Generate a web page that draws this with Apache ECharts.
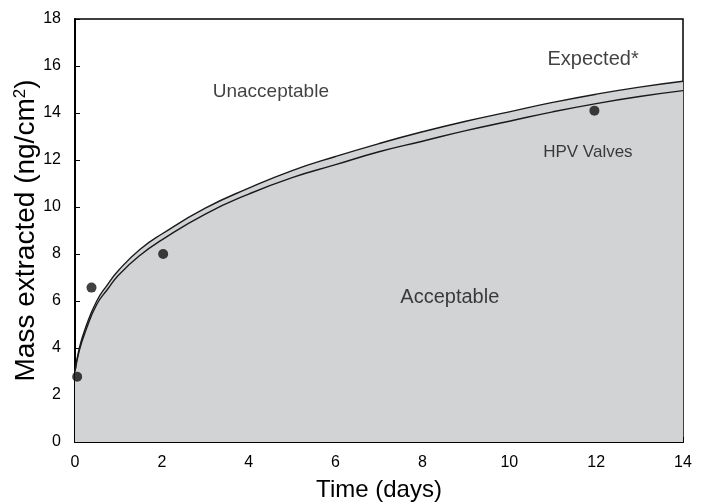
<!DOCTYPE html>
<html>
<head>
<meta charset="utf-8">
<script src="https://cdn.jsdelivr.net/npm/echarts@6/dist/echarts.min.js"></script>
<style>html,body{margin:0;padding:0;background:#fff}#c{width:703px;height:503px}</style>
</head>
<body>
<div id="c"></div>
<script>
// Time (days) at which curves were read
var curveT = [0, 0.1, 0.25, 0.5, 0.75, 1, 1.5, 2, 3, 4, 5, 6, 7, 8, 9, 10, 11, 12, 13, 14];
// Upper boundary curve (Expected*)
var upperM = [3.0, 4.0, 4.9, 6.0, 6.7, 7.3, 8.2, 8.85, 9.95, 10.8, 11.55, 12.15, 12.7, 13.2, 13.65, 14.05, 14.45, 14.8, 15.1, 15.35];
// Lower boundary curve
var lowerM = [3.0, 3.9, 4.75, 5.85, 6.5, 7.1, 7.95, 8.6, 9.7, 10.55, 11.25, 11.8, 12.35, 12.8, 13.25, 13.65, 14.05, 14.4, 14.7, 14.95];
// Measured HPV valve points
var pointT = [0.05, 0.38, 2.03, 11.96];
var pointM = [2.78, 6.57, 8.0, 14.1];
// Annotation texts and their data positions
var noteText = ['Unacceptable', 'Expected*', 'HPV Valves', 'Acceptable'];
var noteT = [4.51, 11.93, 11.81, 8.63];
var noteM = [14.9, 16.26, 12.34, 6.13];
var noteSize = [19, 20, 17, 20];

var xTicks = [0, 2, 4, 6, 8, 10, 12, 14];
var yTicks = [0, 2, 4, 6, 8, 10, 12, 14, 16, 18];

function zip(a, b) { return a.map(function (v, i) { return [v, b[i]]; }); }

var font = 'Liberation Sans, Arial, Helvetica, sans-serif';
var chart = echarts.init(document.getElementById('c'), null, {renderer: 'canvas'});
chart.setOption({
  animation: false,
  backgroundColor: '#fff',
  grid: {left: 75, right: 20, top: 19, bottom: 61, show: true, borderColor: '#000', borderWidth: 1.5,
    backgroundColor: 'transparent', containLabel: false, outerBoundsMode: 'none'},
  xAxis: {
    type: 'value', min: xTicks[0], max: xTicks[xTicks.length - 1], interval: 2,
    name: 'Time (days)', nameLocation: 'middle', nameGap: 36, nameMoveOverlap: false,
    nameTextStyle: {fontFamily: font, fontSize: 24, color: '#000'},
    axisLine: {show: true, onZero: false, lineStyle: {color: '#000', width: 2}},
    axisTick: {show: true, inside: true, length: 5, lineStyle: {color: '#000', width: 1}},
    axisLabel: {fontFamily: font, fontSize: 16, color: '#000', margin: 13},
    splitLine: {show: false}
  },
  yAxis: {
    type: 'value', min: yTicks[0], max: yTicks[yTicks.length - 1], interval: 2,
    name: 'Mass extracted (ng/cm{sup|2})', nameLocation: 'middle', nameGap: 34, nameMoveOverlap: false,
    nameTextStyle: {fontFamily: font, fontSize: 28, color: '#000',
      rich: {sup: {fontFamily: font, fontSize: 17, color: '#000', verticalAlign: 'top', padding: [0, 0, 12, 0]}}},
    axisLine: {show: true, onZero: false, lineStyle: {color: '#000', width: 2}},
    axisTick: {show: true, inside: true, length: 5, lineStyle: {color: '#000', width: 1}},
    axisLabel: {fontFamily: font, fontSize: 16, color: '#000', margin: 14},
    splitLine: {show: false}
  },
  series: [
    {
      type: 'line', data: zip(curveT, upperM), smooth: 0.5, showSymbol: false,
      lineStyle: {color: '#1a1a1a', width: 1.4},
      areaStyle: {color: '#d2d3d5', opacity: 1}, z: 2
    },
    {
      type: 'line', data: zip(curveT, lowerM), smooth: 0.5, showSymbol: false,
      lineStyle: {color: '#1a1a1a', width: 1.4}, z: 3
    },
    {
      type: 'scatter', data: zip(pointT, pointM), symbolSize: 10, clip: false,
      itemStyle: {color: '#111'}, z: 5
    },
    {
      type: 'scatter', symbolSize: 0, silent: true, z: 6,
      data: noteText.map(function (t, i) {
        return {value: [noteT[i], noteM[i]], label: {show: true, position: 'inside', formatter: t,
          fontFamily: font, fontSize: noteSize[i], color: '#111'}};
      })
    }
  ]
});
</script>
</body>
</html>
